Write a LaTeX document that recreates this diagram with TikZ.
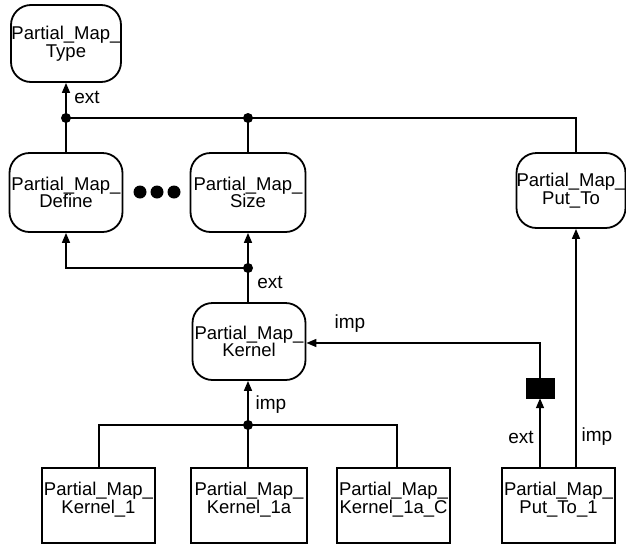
\documentclass[tikz,border=0pt]{standalone}
\usepackage{fontspec}
\setmainfont{Liberation Sans}
\usetikzlibrary{arrows.meta}
\tikzset{
  rnode/.style={draw, line width=1.8pt, rounded corners=20pt, align=center, inner sep=0pt, font=\fontsize{18.5}{17.5}\selectfont},
  bnode/.style={draw, line width=1.8pt, inner sep=0pt},
  txt/.style={align=center, inner sep=0pt, font=\fontsize{18.5}{17.5}\selectfont},
  lbl/.style={inner sep=0pt, font=\fontsize{19}{19}\selectfont},
  conn/.style={line width=1.6pt},
  arr/.style={line width=1.6pt, -{Triangle[length=10pt,width=8pt]}},
  dot/.style={circle, fill, inner sep=0pt, minimum size=10pt},
  bigdot/.style={circle, fill, inner sep=0pt, minimum size=13pt},
  blk/.style={fill, draw, inner sep=0pt, minimum width=28pt, minimum height=20pt}
}
\begin{document}
\begin{tikzpicture}[x=1pt,y=-1pt]
\useasboundingbox (0,0) rectangle (626,544);
% rounded nodes
\node[rnode, minimum width=110pt, minimum height=77pt] (type) at (66,43.5) {Partial\_Map\_\\Type};
\node[rnode, minimum width=113pt, minimum height=79pt] (define) at (66,192.5) {Partial\_Map\_\\Define};
\node[rnode, minimum width=115pt, minimum height=79pt] (size) at (248,192.5) {Partial\_Map\_\\Size};
\node[rnode, minimum width=108pt, minimum height=75pt] (putto) at (571,190.5) {Partial\_Map\_\\Put\_To};
\node[rnode, minimum width=113pt, minimum height=77pt] (kernel) at (249,341.5) {Partial\_Map\_\\Kernel};
% rectangular nodes
\node[bnode, minimum width=113pt, minimum height=75pt] (k1) at (98.5,505.5) {};
\node[bnode, minimum width=116pt, minimum height=75pt] (k1a) at (249,505.5) {};
\node[bnode, minimum width=113pt, minimum height=75pt] (k1ac) at (393.5,505.5) {};
\node[bnode, minimum width=113pt, minimum height=75pt] (pt1) at (558.5,505.5) {};
\node[txt] at ([yshift=6pt]k1.center) {Partial\_Map\_\\Kernel\_1};
\node[txt] at ([yshift=6pt]k1a.center) {Partial\_Map\_\\Kernel\_1a};
\node[txt] at ([yshift=6pt]k1ac.center) {Partial\_Map\_\\Kernel\_1a\_C};
\node[txt] at ([yshift=6pt]pt1.center) {Partial\_Map\_\\Put\_To\_1};
% ellipsis dots
\node[bigdot] (e1) at (140,192) {};
\node[bigdot] (e2) at (157,192) {};
\node[bigdot] (e3) at (174,192) {};
% junctions
\node[dot] (j1) at (66,118) {};
\node[dot] (j2) at (248,118) {};
\node[dot] (j3) at (248,268) {};
\node[dot] (j4) at (248,425) {};
\coordinate (c1) at (576,118);
\coordinate (c2) at (66,268);
\coordinate (c3) at (99,425);
\coordinate (c4) at (397,425);
\coordinate (c5) at (540,343);
\node[blk] (bb) at (540,388) {};
% connectors
\draw[arr] (j1.center) -- (type.south);
\draw[conn] (define.north) -- (j1.center) -- (j2.center) -- (c1) -- (c1 |- putto.north);
\draw[conn] (size.north) -- (j2.center);
\draw[arr] (j3.center) -- (j3 |- size.south);
\draw[arr] (j3.center) -- (c2) -- (define.south);
\draw[conn] (kernel.north -| j3) -- (j3.center);
\draw[arr] (j4.center) -- (j4 |- kernel.south);
\draw[conn] (c3 |- k1.north) -- (c3) -- (c4) -- (c4 |- k1ac.north);
\draw[conn] (j4 |- k1a.north) -- (j4.center);
\draw[arr] (bb |- pt1.north) -- (bb.south);
\draw[arr] (bb.north) -- (c5) -- (c5 -| kernel.east);
\draw[arr] (c1 |- pt1.north) -- (c1 |- putto.south);
% labels
\node[lbl] at (87,97) {ext};
\node[lbl] at (270,282) {ext};
\node[lbl] at (350,324) {imp};
\node[lbl] at (271,405) {imp};
\node[lbl] at (521,437) {ext};
\node[lbl] at (597,437) {imp};
\end{tikzpicture}
\end{document}
